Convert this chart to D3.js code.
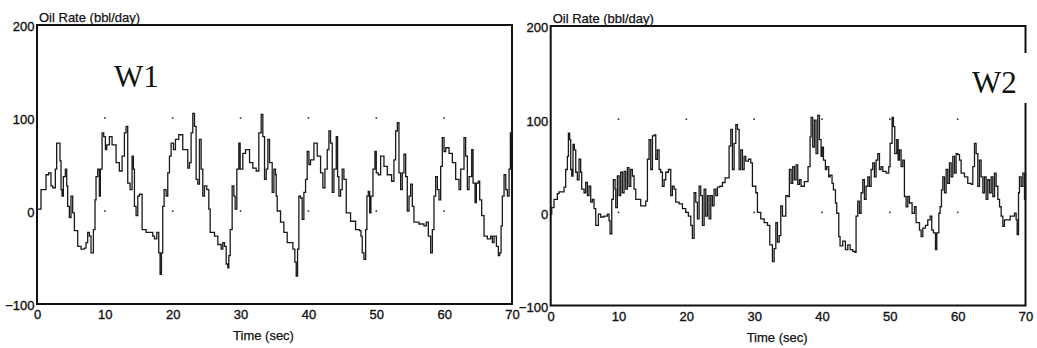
<!DOCTYPE html>
<html>
<head>
<meta charset="utf-8">
<script src="https://cdn.jsdelivr.net/npm/d3@7"></script>
<style>
  html, body { margin: 0; padding: 0; background: #fff; }
  svg { display: block; }
  text { font-family: "Liberation Sans", Arial, sans-serif; fill: #111; }
</style>
</head>
<body>
<svg id="chart" width="1037" height="348"></svg>
<script>
// ---------------- data ----------------
const xTicks = [0, 10, 20, 30, 40, 50, 60, 70];
const yTicks = [-100, 0, 100, 200];
const gridX = [10, 20, 30, 40, 50, 60];
const gridY = [0, 100];
const yTitle = "Oil Rate (bbl/day)";
const xTitle = "Time (sec)";
const wellNames = ["W1", "W2"];

const w1Time = [0.00,0.59,1.33,1.72,2.06,2.31,2.70,2.90,3.20,3.39,3.54,3.69,3.88,4.18,4.38,4.52,4.77,5.01,5.26,5.51,6.00,6.49,6.98,7.23,7.47,7.72,7.96,8.11,8.31,8.55,8.70,8.95,9.19,9.34,9.59,9.83,10.08,10.28,10.67,11.06,11.65,12.14,12.54,12.88,13.13,13.37,13.72,14.01,14.21,14.36,14.60,14.85,15.09,15.49,16.08,17.06,17.31,17.65,17.94,18.14,18.34,18.53,18.73,19.03,19.27,19.52,19.76,20.11,20.40,20.89,21.48,22.22,22.47,22.71,22.96,23.21,23.45,23.70,23.94,24.19,24.43,24.68,25.02,25.32,25.52,26.16,26.65,27.14,27.38,27.63,27.88,28.12,28.27,28.47,28.76,29.01,29.20,29.45,29.74,29.94,30.33,30.73,31.32,31.81,32.30,32.69,33.04,33.28,33.53,33.78,34.02,34.27,34.66,34.91,35.15,35.25,35.40,35.89,36.38,36.87,37.36,37.71,38.00,38.20,38.40,38.59,38.84,39.08,39.33,39.58,39.82,40.07,40.31,40.81,41.30,41.79,42.13,42.43,42.77,43.02,43.26,43.51,43.76,44.10,44.30,44.49,44.74,44.98,45.23,45.57,46.21,46.95,47.54,47.74,47.93,48.18,48.43,48.62,48.82,49.02,49.21,49.51,49.80,50.00,50.29,50.64,51.13,51.62,52.26,52.60,52.85,53.10,53.34,53.59,53.83,54.08,54.33,54.57,54.82,55.06,55.31,55.55,56.29,57.03,57.37,57.67,58.01,58.26,58.50,58.75,59.00,59.24,59.49,59.73,59.98,60.23,60.72,61.21,61.70,62.19,62.44,62.93,63.17,63.42,63.67,64.06,64.26,64.55,64.75,65.04,65.24,65.53,65.88,66.37,66.86,67.11,67.35,67.70,67.99,68.19,68.39,68.58,68.83,69.08,69.32,69.57,69.76,70.00];
const w1Rate = [2,23,39,41,27,25,45,73,73,54,23,16,37,45,27,5,-7,16,-2,-21,-38,-41,-40,-34,-23,-27,-45,-45,-20,12,37,45,16,45,84,80,66,71,80,71,52,43,59,84,91,30,23,59,45,5,-5,16,18,-20,-23,-27,-30,-23,-45,-68,-45,5,23,16,41,59,73,66,77,82,66,46,52,84,105,91,34,29,77,45,16,27,23,2,-23,-27,-36,-41,-34,-38,-57,-61,-48,-20,27,16,2,45,73,45,62,66,52,46,43,84,104,80,34,45,77,52,20,45,39,16,0,-12,-23,-34,-34,-41,-55,-70,-41,16,14,-9,20,34,64,50,55,73,59,41,25,45,66,86,73,20,45,80,37,16,23,45,34,-2,-11,-20,-21,-27,-45,-52,-20,16,21,-2,16,45,64,41,39,59,48,39,32,55,86,95,41,23,41,61,37,0,16,29,5,-12,-14,-16,-12,-27,-45,-20,16,37,23,12,48,79,64,68,62,52,34,23,45,79,59,23,37,66,30,9,30,32,12,-5,-27,-30,-27,-34,-27,-38,-48,-45,-16,16,39,23,16,45,84,80];

const w2Time = [0.00,0.15,0.49,0.98,1.23,1.82,1.97,2.21,2.46,2.61,2.80,2.95,3.10,3.29,3.49,3.69,3.93,4.18,4.42,4.57,4.92,5.16,5.41,5.65,5.90,6.15,6.39,6.64,7.03,7.37,7.87,8.36,8.60,8.75,9.00,9.24,9.49,9.59,9.83,10.08,10.32,10.57,10.82,11.06,11.31,11.55,11.80,12.05,12.29,12.54,13.03,13.27,13.77,14.01,14.26,14.50,14.75,15.00,15.24,15.49,15.73,15.98,16.22,16.47,16.72,16.96,17.36,17.70,17.94,18.19,18.44,18.93,19.42,19.91,20.30,20.65,20.89,21.14,21.39,21.63,21.88,22.12,22.37,22.62,22.86,23.11,23.35,23.60,23.84,24.09,24.34,24.58,24.93,25.32,25.71,26.06,26.30,26.55,26.79,27.04,27.29,27.53,27.78,28.02,28.27,28.52,28.76,29.15,29.50,29.74,30.24,30.48,30.97,31.47,31.96,32.30,32.69,32.94,33.19,33.43,33.68,33.92,34.17,34.41,34.66,34.95,35.19,35.44,35.68,35.93,36.17,36.42,36.67,36.91,37.40,37.75,37.94,38.24,38.39,38.63,38.88,39.12,39.37,39.62,39.86,40.01,40.21,40.50,40.70,40.99,41.19,41.48,41.68,41.98,42.17,42.47,42.66,43.06,43.45,43.80,44.14,44.53,44.83,45.02,45.27,45.52,45.76,46.01,46.25,46.50,46.75,46.99,47.24,47.48,47.73,47.97,48.22,48.47,48.71,48.96,49.45,49.84,50.04,50.33,50.53,50.73,51.02,51.22,51.42,51.66,51.91,52.15,52.40,52.65,52.89,53.28,53.63,53.87,54.37,54.61,54.86,55.25,55.59,55.94,56.18,56.43,56.73,56.92,57.22,57.41,57.61,57.81,58.05,58.30,58.54,58.79,59.04,59.28,59.53,59.77,60.02,60.27,60.51,61.00,61.49,61.99,62.23,62.48,62.72,62.97,63.22,63.46,63.71,63.95,64.20,64.44,64.69,64.94,65.18,65.43,65.67,65.92,66.17,66.41,66.66,66.90,67.39,67.74,68.13,68.38,68.62,68.77,68.97,69.11,69.36,69.61,69.85,70.00];
const w2Rate = [-2,5,14,20,22,22,27,46,60,85,78,46,39,73,67,43,35,57,43,25,21,32,18,28,11,14,4,-14,-2,-5,-4,-2,-9,-23,14,35,25,5,39,18,43,21,44,25,48,28,46,39,25,14,14,7,7,12,57,78,46,82,83,57,67,46,43,28,35,43,46,18,28,25,11,9,4,0,-4,-14,-28,21,11,-7,28,18,-14,25,-4,18,-7,18,7,25,18,27,28,32,37,37,71,89,46,74,94,89,46,67,46,60,55,57,53,28,21,0,-7,-11,-14,-35,-53,-39,-11,-32,-25,7,-4,-4,18,17,46,31,49,35,51,30,35,28,33,33,49,81,102,70,99,63,104,78,60,70,56,46,49,38,40,31,24,10,-1,-26,-36,-31,-40,-35,-40,-42,-43,-4,12,-1,21,35,14,28,38,28,46,53,38,56,63,46,49,44,42,49,74,102,92,63,78,56,67,49,56,17,6,17,10,-1,6,-11,-19,-26,-17,-14,-8,-4,-19,-22,-40,-22,-1,6,24,38,21,46,31,53,38,60,42,63,62,56,42,38,31,30,49,74,63,28,56,38,21,38,14,35,21,38,17,42,28,14,6,-4,-15,-8,-8,-4,-4,-1,-8,-24,21,38,28,42,14,42];

// ---------------- layout ----------------
const panels = [
  { name: wellNames[0], time: w1Time, rate: w1Rate, left: 37,    right: 512,    top: 25, bottom: 304,
    label: { x: 114, y: 87 }, mask: null },
  { name: wellNames[1], time: w2Time, rate: w2Rate, left: 550.7, right: 1025.5, top: 26, bottom: 305.5,
    label: { x: 972, y: 93 }, mask: { x: 966, y: 53, w: 66, h: 50 } }
];

const svg = d3.select("#chart");
const sansFont = '"Liberation Sans", Arial, sans-serif';

panels.forEach(p => {
  const x = d3.scaleLinear().domain([0, 70]).range([p.left, p.right]);
  const y = d3.scaleLinear().domain([-100, 200]).range([p.bottom, p.top]);
  const g = svg.append("g");

  // frame
  g.append("rect")
    .attr("x", p.left).attr("y", p.top)
    .attr("width", p.right - p.left).attr("height", p.bottom - p.top)
    .attr("fill", "none").attr("stroke", "#111").attr("stroke-width", 2);

  // grid dots
  gridX.forEach(gx => gridY.forEach(gy => {
    g.append("rect")
      .attr("x", x(gx) - 0.8).attr("y", y(gy) - 0.8)
      .attr("width", 1.6).attr("height", 1.6)
      .attr("fill", "#333");
  }));

  // axes
  const xAxis = g.append("g")
    .attr("transform", `translate(0,${p.bottom})`)
    .call(d3.axisBottom(x).tickValues(xTicks).tickSize(0).tickPadding(6).tickFormat(d3.format("d")));
  xAxis.select(".domain").remove();
  xAxis.selectAll("text").attr("font-size", 13).attr("fill", "#111")
    .attr("stroke", "#111").attr("stroke-width", 0.35)
    .style("font-family", sansFont);

  const yAxis = g.append("g")
    .attr("transform", `translate(${p.left},0)`)
    .call(d3.axisLeft(y).tickValues(yTicks).tickSize(0).tickPadding(2.5).tickFormat(d3.format("d")));
  yAxis.select(".domain").remove();
  yAxis.selectAll("text").attr("font-size", 13).attr("dy", "0.45em").attr("fill", "#111")
    .attr("stroke", "#111").attr("stroke-width", 0.35)
    .style("font-family", sansFont);

  // titles
  g.append("text").attr("x", p.left + 2).attr("y", p.top - 3.5)
    .attr("font-size", 13).attr("stroke", "#111").attr("stroke-width", 0.25).text(yTitle);
  g.append("text").attr("x", (p.left + p.right) / 2 - 11).attr("y", p.bottom + 36)
    .attr("text-anchor", "middle").attr("font-size", 13)
    .attr("stroke", "#111").attr("stroke-width", 0.25).text(xTitle);

  // data line (stair-step like the sampled trace)
  const pts = p.time.map((t, i) => [t, p.rate[i]]);
  g.append("path")
    .datum(pts)
    .attr("fill", "none")
    .attr("stroke", "#1a1a1a")
    .attr("stroke-width", 1.3)
    .attr("d", d3.line().curve(d3.curveStepAfter).x(d => x(d[0])).y(d => y(d[1])));

  // well label (with white backing where it overlaps the frame)
  if (p.mask) {
    g.append("rect").attr("x", p.mask.x).attr("y", p.mask.y)
      .attr("width", p.mask.w).attr("height", p.mask.h).attr("fill", "#fff");
  }
  g.append("text").attr("x", p.label.x).attr("y", p.label.y)
    .style("font-family", '"Liberation Serif", "Times New Roman", serif')
    .attr("font-size", 31).attr("fill", "#000").text(p.name);
});
</script>
</body>
</html>
